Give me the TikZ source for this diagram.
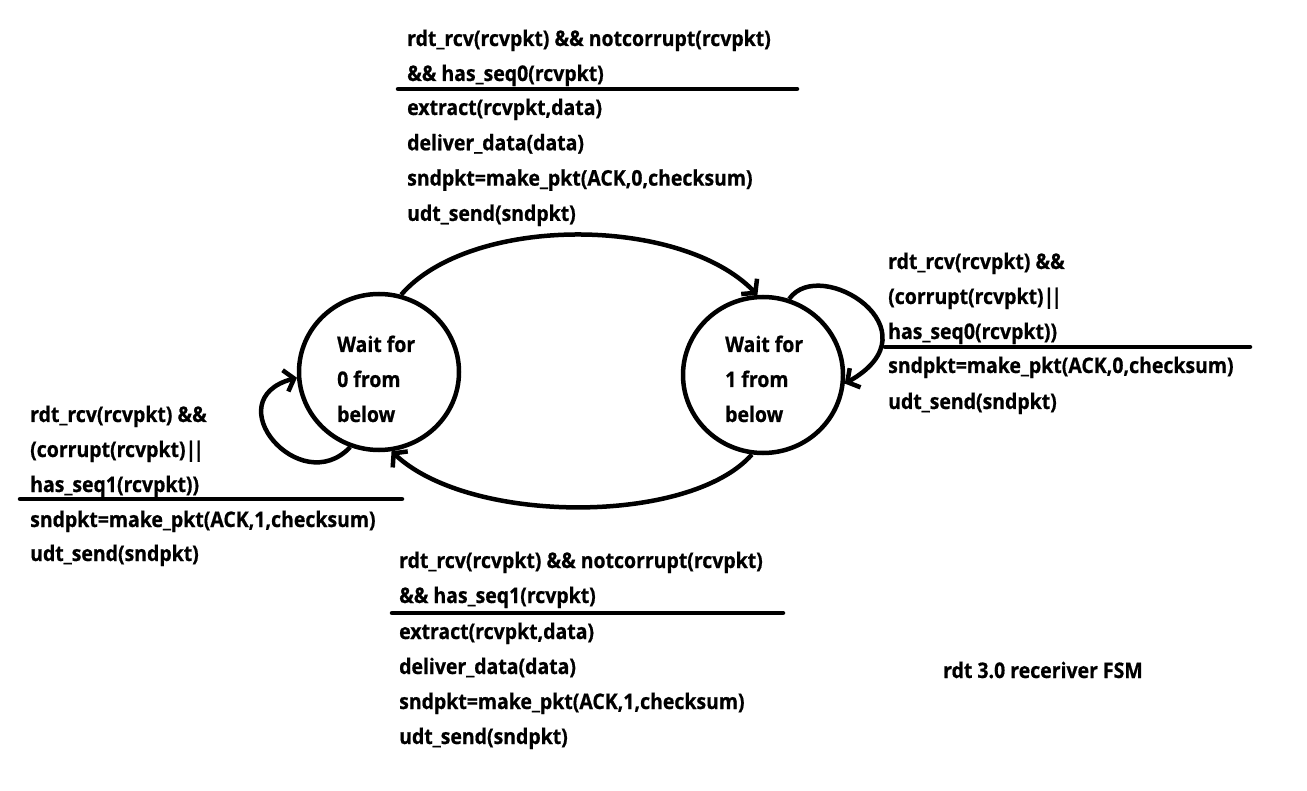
\documentclass[tikz,border=0pt]{standalone}
\usepackage{fontspec}
\setmainfont{Open Sans}[FakeStretch=0.905, BoldFeatures={FakeBold=0.7}]
\usetikzlibrary{arrows.meta,shapes.geometric}
\newcommand\lblf{\fontsize{21.5}{25}\selectfont\bfseries}
\newcommand\orbars{|\kern-3pt|}
\tikzset{
  lbl/.style={anchor=base west, inner sep=0pt, font=\lblf},
  stateshape/.style={draw, ellipse, line width=4.5pt, minimum width=160pt, minimum height=156pt, inner sep=0pt},
  edge/.style={line width=4.5pt, -{Straight Barb[length=9pt,width=22pt]}},
  rule/.style={line width=4.5pt, line cap=round}
}
\begin{document}
\begin{tikzpicture}[x=1pt,y=-1pt]
\useasboundingbox (0,0) rectangle (1307,791);
\fill[white] (0,0) rectangle (1307,791);

% states
\node[stateshape] (s0) at (379,372) {};
\node[stateshape] (s1) at (763,375) {};
\foreach \t [count=\i] in {Wait for,0 from,below}
  \node[lbl] (s0t\i) at (337,{352+35*(\i-1)}) {\t};
\foreach \t [count=\i] in {Wait for,1 from,below}
  \node[lbl] (s1t\i) at (725,{352+35*(\i-1)}) {\t};

% transitions
\draw[edge] (s0.74) .. controls (470,215) and (680,215) .. (s1.94);
\draw[edge] (s1.262) .. controls (690,525) and (470,525) .. (s0.279);
\draw[edge] (s0.249) .. controls (300,500) and (215,400) .. (s0.184);
\draw[edge] (s1.71) .. controls (820,255) and (940,330) .. (s1.354);

% top label
\foreach \t [count=\i] in {{rdt\_rcv(rcvpkt) \&\& notcorrupt(rcvpkt)},{\&\& has\_seq0(rcvpkt)}}
  \node[lbl] (tc\i) at (407,{46+35*(\i-1)}) {\t};
\coordinate (tra) at (398,89); \coordinate (trb) at (797,89);
\draw[rule] (tra) -- (trb);
\foreach \t [count=\i] in {{extract(rcvpkt,data)},{deliver\_data(data)},{sndpkt=make\_pkt(ACK,0,checksum)},{udt\_send(sndpkt)}}
  \node[lbl] (ta\i) at (407,{115+35.3*(\i-1)}) {\t};

% right label
\foreach \t [count=\i] in {{rdt\_rcv(rcvpkt) \&\&},{(corrupt(rcvpkt)\orbars},{has\_seq0(rcvpkt))}}
  \node[lbl] (rc\i) at (888,{269+35*(\i-1)}) {\t};
\coordinate (rra) at (885,347); \coordinate (rrb) at (1250,347);
\draw[rule] (rra) -- (rrb);
\foreach \t [count=\i] in {{sndpkt=make\_pkt(ACK,0,checksum)},{udt\_send(sndpkt)}}
  \node[lbl] (ra\i) at (888,{373+36*(\i-1)}) {\t};

% left label
\foreach \t [count=\i] in {{rdt\_rcv(rcvpkt) \&\&},{(corrupt(rcvpkt)\orbars},{has\_seq1(rcvpkt))}}
  \node[lbl] (lc\i) at (30,{422+35*(\i-1)}) {\t};
\coordinate (lra) at (20,499); \coordinate (lrb) at (402,499);
\draw[rule] (lra) -- (lrb);
\foreach \t [count=\i] in {{sndpkt=make\_pkt(ACK,1,checksum)},{udt\_send(sndpkt)}}
  \node[lbl] (la\i) at (30,{527+34*(\i-1)}) {\t};

% bottom label
\foreach \t [count=\i] in {{rdt\_rcv(rcvpkt) \&\& notcorrupt(rcvpkt)},{\&\& has\_seq1(rcvpkt)}}
  \node[lbl] (bc\i) at (399,{568+35*(\i-1)}) {\t};
\coordinate (bra) at (392,613); \coordinate (brb) at (783,613);
\draw[rule] (bra) -- (brb);
\foreach \t [count=\i] in {{extract(rcvpkt,data)},{deliver\_data(data)},{sndpkt=make\_pkt(ACK,1,checksum)},{udt\_send(sndpkt)}}
  \node[lbl] (ba\i) at (399,{639+35*(\i-1)}) {\t};

% caption
\node[lbl] (cap) at (943,678) {rdt 3.0 receriver FSM};
\end{tikzpicture}
\end{document}
